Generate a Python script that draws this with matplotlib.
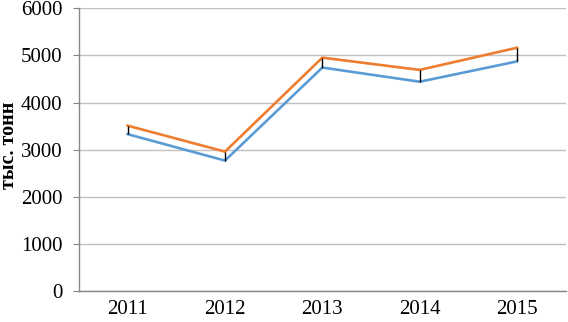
import matplotlib
matplotlib.use("Agg")
import matplotlib.pyplot as plt

years = ["2011", "2012", "2013", "2014", "2015"]
series_low = [3330, 2770, 4740, 4440, 4870]
series_high = [3510, 2960, 4950, 4690, 5160]
yticks = [0, 1000, 2000, 3000, 4000, 5000, 6000]

plt.rcParams['font.family'] = ['Liberation Serif', 'DejaVu Serif']

fig = plt.figure(figsize=(5.68, 3.22), dpi=100)
ax = fig.add_axes([0.139, 0.095, 0.857, 0.88])

x = list(range(len(years)))
ax.vlines(x, series_low, series_high, colors='black', linewidth=1.0, zorder=3)
ax.plot(x, series_low, color='#5b9bd5', linewidth=1.9, zorder=2)
ax.plot(x, series_high, color='#ed7d31', linewidth=1.9, zorder=2)

ax.set_xlim(-0.5, len(years) - 0.5)
ax.set_ylim(0, 6000)
ax.set_yticks(yticks)
ax.set_xticks(x)
ax.set_xticklabels(years)
ax.tick_params(axis='both', labelsize=15, colors='#000000')
ax.tick_params(axis='x', length=0, pad=6)
ax.tick_params(axis='y', length=4, width=0.8, color='#868686', pad=8)
ax.grid(axis='y', color='#c0c0c0', linewidth=1.0)
ax.set_axisbelow(True)
for s in ['top', 'right']:
    ax.spines[s].set_visible(False)
for s in ['left', 'bottom']:
    ax.spines[s].set_color('#868686')
    ax.spines[s].set_linewidth(1.0)

ax.set_ylabel('тыс. тонн', fontsize=14.5, fontweight='bold')
ax.yaxis.set_label_coords(-0.124, 0.515)

fig.savefig('out.png', dpi=100)
